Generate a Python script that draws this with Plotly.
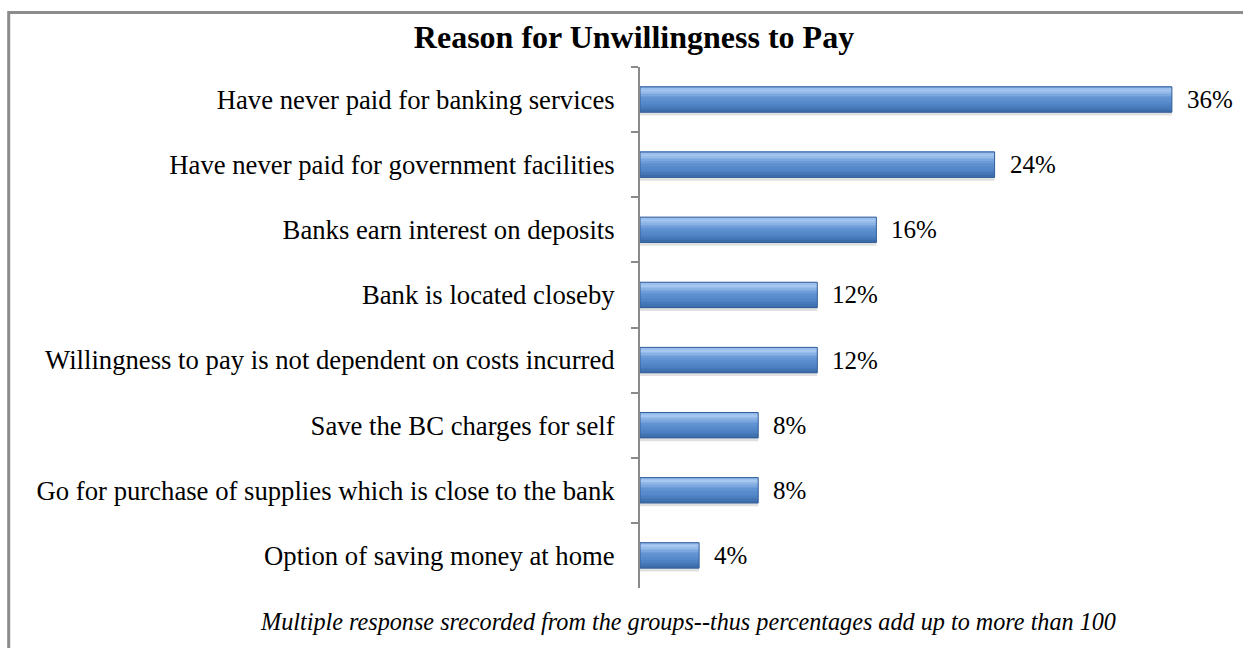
import plotly.graph_objects as go

# Survey responses: reasons given for unwillingness to pay
reasons = [
    "Have never paid for banking services",
    "Have never paid for government facilities",
    "Banks earn interest on deposits",
    "Bank is located closeby",
    "Willingness to pay is not dependent on costs incurred",
    "Save the BC charges for self",
    "Go for purchase of supplies which is close to the bank",
    "Option of saving money at home",
]
shares = [36, 24, 16, 12, 12, 8, 8, 4]
value_labels = ["36%", "24%", "16%", "12%", "12%", "8%", "8%", "4%"]

title_text = "Reason for Unwillingness to Pay"
note_text = "Multiple response srecorded from the groups--thus percentages add up to more than 100"

SERIF = "Liberation Serif, Times New Roman, serif"
W, H = 1243, 648
L, R, T, B = 640, 12, 67, 60
pw, ph = W - L - R, H - T - B

BAR_W = 0.39
# vertical gradient of the bar face, top edge to bottom edge
grad_stops = [(0.0, (138, 179, 230)), (0.15, (166, 200, 241)), (0.45, (99, 149, 212)),
              (0.75, (79, 131, 197)), (1.0, (58, 105, 166))]
N_SLICES = 16


def grad_color(t):
    for (t0, c0), (t1, c1) in zip(grad_stops[:-1], grad_stops[1:]):
        if t <= t1:
            f = (t - t0) / (t1 - t0)
            return "rgb(%d,%d,%d)" % tuple(round(a + (b - a) * f) for a, b in zip(c0, c1))
    return "rgb(%d,%d,%d)" % grad_stops[-1][1]


fig = go.Figure()

# soft drop shadow under each bar
fig.add_trace(go.Bar(
    y=reasons, x=shares, orientation="h", width=BAR_W, offset=-BAR_W / 2 + 0.05,
    marker=dict(color="rgba(0,0,0,0.12)", line=dict(width=0)),
    hoverinfo="skip", showlegend=False,
))

# bar face drawn as thin horizontal slices forming a gradient
slice_w = BAR_W / N_SLICES
for i in range(N_SLICES):
    fig.add_trace(go.Bar(
        y=reasons, x=shares, orientation="h",
        width=slice_w * 1.05, offset=-BAR_W / 2 + i * slice_w,
        marker=dict(color=grad_color((i + 0.5) / N_SLICES), line=dict(width=0)),
        hoverinfo="skip", showlegend=False,
    ))

# outline of each bar
fig.add_trace(go.Bar(
    y=reasons, x=shares, orientation="h", width=BAR_W, offset=-BAR_W / 2,
    marker=dict(color="rgba(0,0,0,0)", line=dict(color="#33609A", width=1)),
    showlegend=False,
))

annotations = []
for r, v, lab in zip(reasons, shares, value_labels):
    annotations.append(dict(
        x=v, y=r, xref="x", yref="y", text=lab, showarrow=False,
        xanchor="left", yanchor="middle", xshift=13,
        font=dict(family=SERIF, size=25, color="black"),
    ))

annotations.append(dict(
    x=(258 - L) / pw, y=(H - B - 621) / ph, xref="paper", yref="paper",
    text="<i>" + note_text + "</i>", showarrow=False,
    xanchor="left", yanchor="middle",
    font=dict(family=SERIF, size=24.2, color="black"),
))

fig.update_layout(
    width=W, height=H,
    margin=dict(l=L, r=R, t=T, b=B, autoexpand=False),
    paper_bgcolor="white", plot_bgcolor="white",
    barmode="overlay",
    title=dict(
        text="<b>" + title_text + "</b>", xref="container", x=634 / W,
        xanchor="center", y=1 - 37 / H, yanchor="middle",
        font=dict(family=SERIF, size=32, color="black"),
    ),
    xaxis=dict(range=[0, 40], visible=False, fixedrange=True),
    yaxis=dict(
        categoryorder="array", categoryarray=reasons, autorange="reversed",
        showline=True, linecolor="#8A8A8A", linewidth=2,
        ticks="outside", tickson="boundaries", ticklen=7,
        tickcolor="#8A8A8A", tickwidth=2, ticklabelstandoff=18,
        showgrid=False, zeroline=False,
        tickfont=dict(family=SERIF, size=26.7, color="black"),
    ),
    annotations=annotations,
    shapes=[dict(
        type="rect", xref="paper", yref="paper",
        x0=(8.7 - L) / pw, x1=(1260 - L) / pw,
        y0=(H - B - 670) / ph, y1=(H - B - 12.5) / ph,
        line=dict(color="#8C8C8C", width=3), fillcolor="rgba(0,0,0,0)",
        layer="above",
    )],
)

fig.write_html("out.html")
